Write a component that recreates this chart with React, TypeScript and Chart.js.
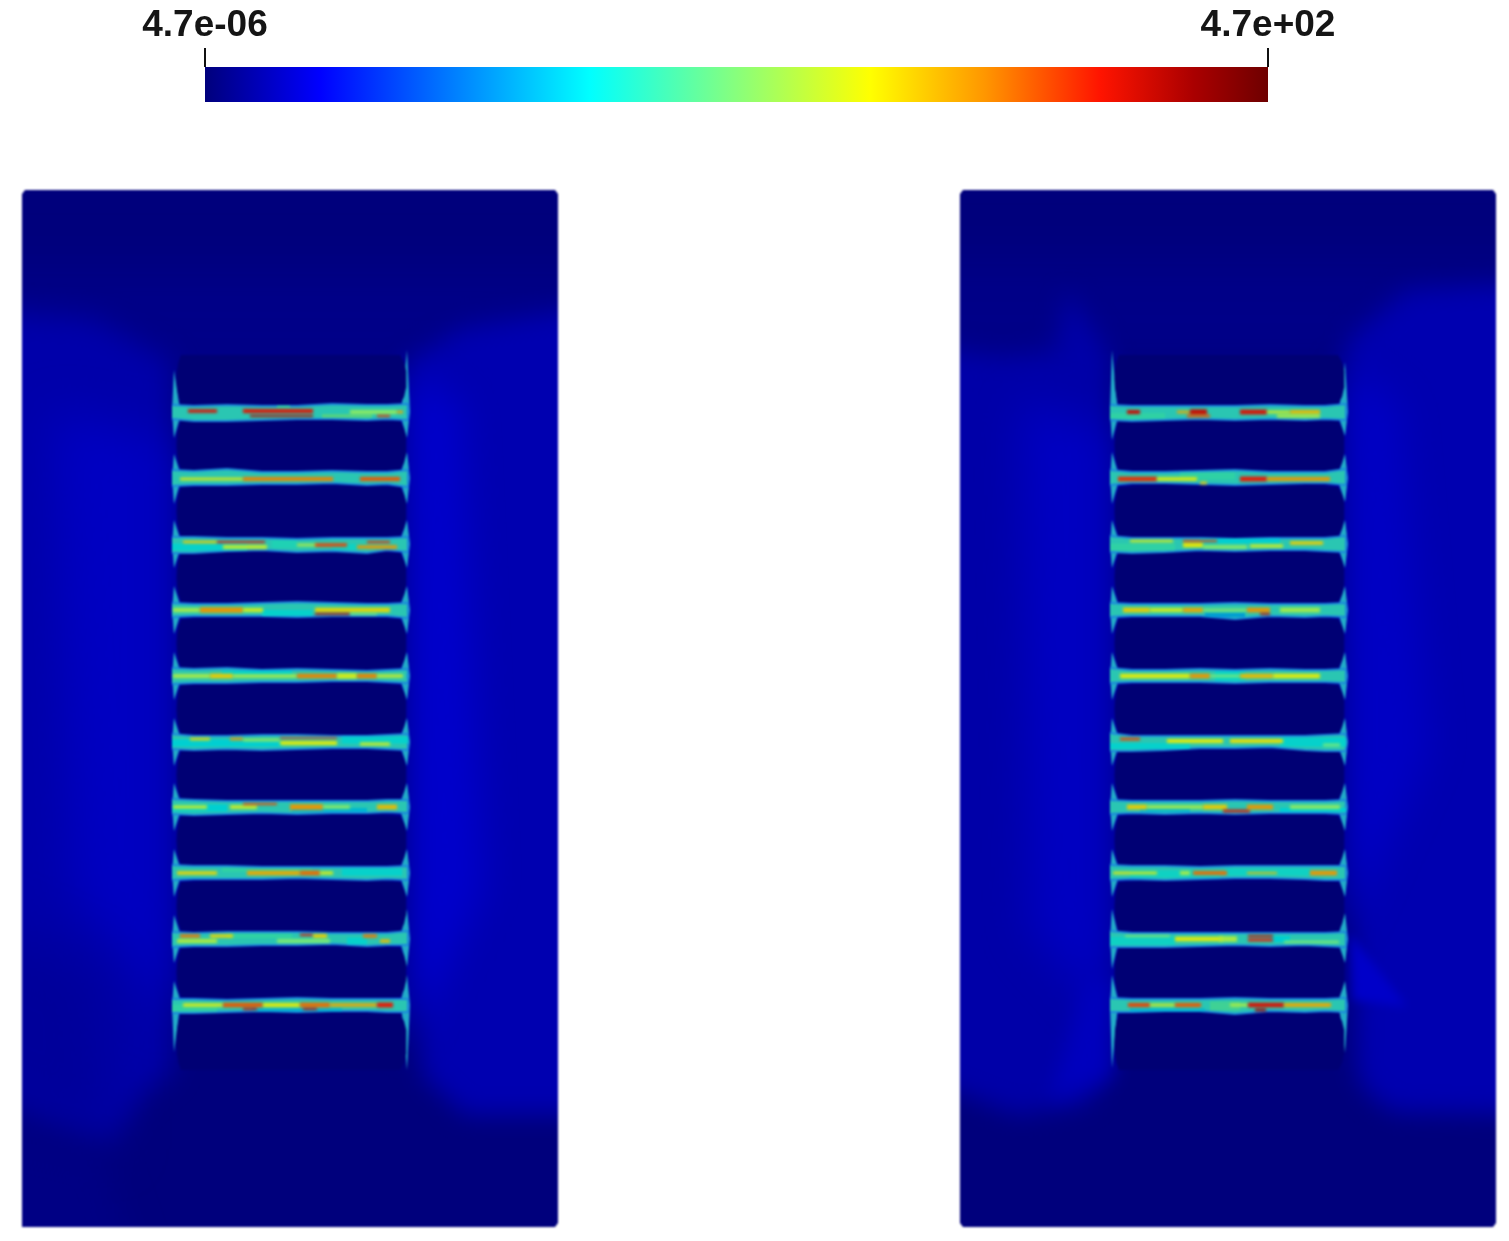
import React, { useEffect, useRef } from "react";
import { Chart, registerables } from "chart.js";

// ---------- scalar bar ----------
const rangeMin = 4.7e-6;
const rangeMax = 4.7e2;
const tickLabels = ["4.7e-06", "4.7e+02"];
const colorStops = [0, 0.108, 0.362, 0.494, 0.626, 0.734, 0.842, 0.93, 1];
const colorValues = ["#00007c", "#0000ff", "#00ffff", "#82ff82", "#ffff00", "#ff9600", "#ff1400", "#aa0000", "#6e0000"];

// ---------- field, mesh coordinates of one panel ----------
const bandCenters = [222, 288, 354, 420, 486, 552, 617, 683, 749, 815];
const bandStations = [150, 172, 205, 240, 275, 310, 345, 365, 386];

const leftBandTop = [
  [-7, -6, -7, -6, -6, -8, -7, -7, -8], [-8, -7, -9, -6, -6, -7, -6, -6, -8],
  [-7, -7, -6, -6, -5, -6, -6, -6, -7], [-7, -6, -6, -7, -8, -7, -6, -6, -7],
  [-8, -7, -8, -6, -7, -6, -5, -6, -7], [-8, -6, -6, -7, -7, -6, -6, -7, -8],
  [-8, -7, -6, -6, -6, -6, -6, -7, -7], [-8, -7, -7, -6, -6, -6, -6, -6, -7],
  [-7, -6, -7, -7, -7, -6, -6, -6, -8], [-6, -6, -5, -6, -7, -6, -6, -6, -6],
];
const leftBandBottom = [
  [7, 9, 9, 8, 7, 7, 8, 7, 8], [8, 7, 7, 6, 6, 5, 7, 6, 9],
  [9, 9, 7, 6, 8, 7, 9, 6, 8], [7, 6, 6, 6, 7, 6, 6, 6, 8],
  [8, 7, 7, 6, 6, 5, 5, 6, 7], [7, 8, 7, 8, 7, 6, 6, 7, 8],
  [7, 8, 7, 6, 7, 6, 6, 5, 6], [7, 6, 6, 6, 5, 6, 7, 6, 7],
  [8, 7, 7, 6, 6, 5, 7, 6, 6], [8, 8, 7, 6, 7, 6, 6, 7, 7],
];
const rightBandTop = [
  [-7, -6, -6, -6, -6, -7, -6, -6, -8], [-8, -6, -6, -7, -8, -6, -6, -6, -9],
  [-8, -6, -6, -6, -5, -6, -6, -6, -8], [-7, -6, -6, -6, -7, -6, -6, -6, -7],
  [-8, -6, -6, -7, -6, -7, -6, -6, -7], [-9, -6, -6, -6, -6, -6, -6, -7, -8],
  [-7, -6, -6, -6, -7, -6, -6, -6, -7], [-8, -7, -7, -6, -7, -7, -7, -7, -7],
  [-8, -6, -6, -6, -6, -6, -6, -6, -7], [-7, -6, -6, -6, -7, -6, -6, -6, -7],
];
const rightBandBottom = [
  [8, 9, 8, 7, 8, 7, 8, 7, 8], [7, 5, 5, 6, 7, 6, 5, 5, 7],
  [8, 9, 8, 6, 7, 6, 6, 7, 8], [7, 6, 6, 6, 9, 6, 7, 6, 7],
  [7, 6, 6, 6, 7, 6, 6, 6, 7], [9, 9, 8, 6, 6, 5, 8, 9, 9],
  [7, 6, 7, 6, 7, 6, 6, 6, 7], [7, 6, 7, 6, 5, 5, 6, 7, 7],
  [8, 8, 8, 7, 6, 7, 6, 7, 8], [7, 7, 6, 6, 9, 6, 7, 6, 7],
];

// [band, from, to, offset, level, thickness]
const leftPatches = [
  [0, 255, 268, -5, 0.42, 3], [0, 300, 350, 4, 0.46, 4], [2, 150, 225, 3, 0.37, 7], [2, 250, 275, 0, 0.4, 8],
  [2, 310, 345, 3, 0.38, 6], [3, 240, 290, 3, 0.37, 6], [4, 200, 270, -3, 0.36, 5], [5, 150, 260, 1, 0.36, 7],
  [5, 320, 386, -2, 0.37, 7], [6, 150, 205, 1, 0.36, 7], [6, 270, 345, 3, 0.33, 4], [7, 320, 380, -1, 0.37, 7],
  [7, 200, 290, -3, 0.42, 4], [8, 205, 270, -3, 0.42, 5], [8, 325, 345, 2, 0.37, 7], [9, 150, 195, 3, 0.42, 7],
  [9, 230, 320, 5, 0.32, 3],
];
const rightPatches = [
  [0, 150, 205, 4, 0.42, 6], [1, 220, 275, -2, 0.42, 7], [2, 150, 215, 3, 0.42, 7], [2, 240, 320, -3, 0.36, 5],
  [3, 245, 285, 5, 0.3, 4], [4, 255, 285, 0, 0.37, 10], [5, 150, 230, 4, 0.37, 6], [5, 320, 386, 0, 0.37, 9],
  [6, 180, 230, 3, 0.33, 4], [6, 320, 386, 3, 0.36, 4], [7, 170, 260, 1, 0.38, 7], [7, 265, 350, -1, 0.38, 7],
  [8, 150, 215, 2, 0.38, 8], [8, 310, 330, 0, 0.36, 6], [9, 250, 280, 1, 0.44, 9], [9, 170, 245, 5, 0.33, 3],
];
const leftStreaks = [
  [0, 166, 195, -1, 0.86, 2.5], [0, 221, 291, -1, 0.85, 3], [0, 228, 291, 4, 0.9, 1.5], [0, 328, 375, 0, 0.52, 3], [0, 375, 381, 0, 0.7, 2], [0, 355, 368, 4, 0.82, 1.5],
  [1, 158, 221, 1, 0.62, 2], [1, 221, 311, 1, 0.74, 3], [1, 338, 378, 1, 0.78, 3],
  [2, 161, 195, -2, 0.66, 2], [2, 195, 243, -2, 0.85, 1.5], [2, 201, 245, 3, 0.58, 3], [2, 275, 295, 1, 0.55, 2], [2, 293, 325, 1, 0.8, 2.5], [2, 345, 368, -2, 0.82, 1.5], [2, 335, 375, 3, 0.72, 2.5],
  [3, 151, 178, 0, 0.55, 3], [3, 178, 221, 0, 0.72, 4], [3, 221, 241, 0, 0.6, 3], [3, 293, 368, 0, 0.65, 3.5], [3, 293, 328, 4, 0.9, 1.5], [3, 328, 355, 4, 0.5, 1.5],
  [4, 151, 188, 0, 0.55, 3], [4, 188, 211, 0, 0.66, 3.5], [4, 211, 275, 0, 0.55, 2.5], [4, 275, 315, 0, 0.74, 3.5], [4, 315, 335, 0, 0.6, 4], [4, 335, 355, 0, 0.74, 3.5], [4, 355, 381, 0, 0.58, 2.5],
  [5, 168, 188, -3, 0.65, 2], [5, 208, 221, -3, 0.72, 2], [5, 221, 258, -2, 0.55, 2], [5, 258, 315, 1, 0.62, 3], [5, 258, 315, -4, 0.82, 1], [5, 338, 368, 2, 0.58, 2.5],
  [6, 151, 185, 0, 0.58, 2.5], [6, 208, 235, 0, 0.58, 3], [6, 221, 255, -3, 0.8, 1.5], [6, 268, 301, 0, 0.72, 4], [6, 301, 328, 0, 0.52, 2.5], [6, 355, 375, 0, 0.68, 3.5],
  [7, 155, 195, 0, 0.65, 2.5], [7, 225, 278, 0, 0.7, 3.5], [7, 278, 298, 0, 0.76, 3.5], [7, 298, 311, 0, 0.6, 2.5],
  [8, 158, 178, -3, 0.75, 2.5], [8, 188, 211, -3, 0.65, 2.5], [8, 278, 291, -4, 0.85, 1.5], [8, 291, 305, -3, 0.66, 3], [8, 341, 355, -3, 0.75, 2.5], [8, 358, 368, 2, 0.68, 2.5], [8, 155, 195, 2, 0.56, 3], [8, 255, 308, 2, 0.5, 3],
  [9, 161, 201, 0, 0.6, 2.5], [9, 201, 241, 0, 0.78, 3.5], [9, 221, 235, 4, 0.88, 1.5], [9, 241, 278, 0, 0.62, 3], [9, 278, 308, 0, 0.76, 3.5], [9, 281, 295, 4, 0.88, 1.5], [9, 308, 355, 0, 0.7, 2.5], [9, 355, 371, 0, 0.84, 3.5],
];
const rightStreaks = [
  [0, 167, 180, 0, 0.88, 3], [0, 217, 230, 0, 0.7, 2], [0, 230, 247, 0, 0.88, 4], [0, 227, 250, 4, 0.78, 2], [0, 280, 307, 0, 0.86, 3.5], [0, 307, 330, 0, 0.6, 2], [0, 330, 360, 0, 0.68, 3], [0, 317, 360, 4, 0.55, 2.5],
  [1, 158, 197, 1, 0.82, 3.5], [1, 197, 237, 1, 0.62, 2.5], [1, 240, 247, 5, 0.66, 2], [1, 280, 307, 1, 0.84, 3.5], [1, 307, 370, 1, 0.72, 3],
  [2, 170, 213, -3, 0.6, 2], [2, 223, 243, 1, 0.63, 3.5], [2, 223, 257, -3, 0.8, 1.5], [2, 243, 287, 3, 0.52, 2.5], [2, 290, 323, 2, 0.58, 2.5], [2, 330, 363, -1, 0.66, 2.5],
  [3, 163, 190, 0, 0.66, 3.5], [3, 190, 223, 0, 0.6, 3], [3, 223, 243, 0, 0.7, 3.5], [3, 243, 287, 0, 0.52, 2], [3, 287, 310, 0, 0.72, 3.5], [3, 300, 310, 4, 0.88, 1.5], [3, 320, 360, 0, 0.55, 3.5],
  [4, 160, 230, 0, 0.62, 3.5], [4, 230, 250, 0, 0.72, 3.5], [4, 250, 280, 0, 0.5, 2], [4, 280, 313, 0, 0.68, 3.5], [4, 313, 360, 0, 0.62, 3.5],
  [5, 160, 180, -3, 0.8, 2], [5, 207, 263, -1, 0.62, 3], [5, 270, 323, -1, 0.64, 3], [5, 363, 380, 3, 0.5, 2],
  [6, 167, 187, 0, 0.66, 3.5], [6, 187, 243, 0, 0.55, 2.5], [6, 243, 267, 0, 0.66, 3.5], [6, 263, 290, 4, 0.86, 2], [6, 287, 313, 0, 0.72, 3.5], [6, 330, 380, 0, 0.52, 3],
  [7, 153, 197, 0, 0.62, 2], [7, 220, 230, 0, 0.55, 3], [7, 233, 267, 0, 0.76, 3], [7, 287, 317, 0, 0.68, 1.5], [7, 350, 377, 0, 0.72, 3.5],
  [8, 215, 263, 0, 0.62, 3.5], [8, 259, 277, 0, 0.56, 4], [8, 288, 313, 1, 0.84, 2], [8, 288, 313, -3, 0.88, 1.5], [8, 324, 379, 3, 0.5, 2], [8, 165, 210, -3, 0.5, 1.5],
  [9, 168, 190, 0, 0.8, 3], [9, 190, 215, 0, 0.6, 2], [9, 215, 241, 0, 0.78, 3], [9, 270, 288, 0, 0.55, 2.5], [9, 288, 324, 0, 0.86, 3.5], [9, 295, 306, 5, 0.92, 2], [9, 324, 371, 0, 0.7, 3],
];

// reach of the thin spikes up and down from each band, on the inner left and right edges
const leftPanelLeftReach = [[42, 26], [24, 26], [24, 24], [24, 24], [24, 24], [24, 24], [24, 24], [24, 24], [24, 24], [24, 47]];
const leftPanelRightReach = [[62, 26], [26, 26], [24, 24], [24, 24], [24, 24], [24, 24], [24, 24], [24, 24], [30, 28], [30, 65]];
const rightPanelLeftReach = [[62, 28], [26, 26], [24, 24], [24, 24], [24, 24], [24, 24], [24, 24], [24, 24], [30, 30], [30, 63]];
const rightPanelRightReach = [[50, 24], [24, 24], [24, 24], [24, 24], [24, 24], [24, 24], [24, 24], [24, 24], [26, 24], [24, 48]];

const panelOutlineX = [3, 533, 536, 536, 533, 3, 0, 0];
const panelOutlineY = [0, 0, 4, 1033, 1037, 1037, 1033, 4];

// soft regions: [colour, softness, x list, y list]
const leftRegions = [
  ["#000088", 24, [-60, 596, 596, -60], [80, 80, 190, 190]],
  ["#0000aa", 14, [-60, 70, 150, 150, 120, 86, -60], [120, 128, 172, 880, 905, 950, 880]],
  ["#0000b0", 12, [386, 440, 596, 596, 443, 400], [172, 138, 112, 925, 925, 885]],
  ["#0000c2", 24, [30, 150, 150, 50], [220, 250, 830, 700]],
  ["#0000cb", 18, [386, 440, 462, 386], [180, 215, 700, 860]],
  ["#00009a", 26, [-60, 80, 90, -60], [720, 780, 960, 900]],
  ["#000084", 16, [-60, 80, 120, -60], [930, 965, 1080, 1080]],
];
const rightRegions = [
  ["#000088", 24, [-60, 596, 596, -60], [70, 70, 175, 175]],
  ["#0000a8", 12, [-60, 40, 95, 107, 150, 150, 125, 56, -60], [152, 165, 160, 100, 165, 885, 915, 925, 880]],
  ["#0000b0", 12, [386, 447, 596, 596, 433, 407, 397], [152, 100, 92, 925, 922, 903, 883]],
  ["#0000c2", 22, [60, 150, 150, 70], [210, 240, 830, 740]],
  ["#0000c4", 18, [386, 440, 470, 386], [175, 215, 560, 750]],
  ["#0000c9", 5, [390, 447, 393], [743, 817, 810]],
  ["#0000be", 10, [125, 150, 150, 90], [790, 790, 885, 910]],
];

const bandColor = "#2ac6b2";
const bandEdgeColor = "#1a86dc";
const spikeColor = "#22abc8";
const holeColor = "#000074";
const panelColor = "#00007c";
const textColor = "#151515";
const patchDim = 0.82;
const streakDim = 0.92;
const streakSoftness = 0.8;

// ---------- helpers ----------
const softPlugin = {
  id: "softPlugin",
  beforeDatasetDraw(chart: any, args: any) {
    const r = chart.data.datasets[args.index].softness;
    chart.ctx.save();
    if (r) chart.ctx.filter = `blur(${r}px)`;
  },
  afterDatasetDraw(chart: any) {
    chart.ctx.restore();
  },
};
Chart.register(softPlugin);
Chart.register(...registerables);

function hexToRgb(h: string) {
  return [parseInt(h.slice(1, 3), 16), parseInt(h.slice(3, 5), 16), parseInt(h.slice(5, 7), 16)];
}
function levelColor(t: number, dim = 1) {
  let i = 0;
  while (i < colorStops.length - 2 && t > colorStops[i + 1]) i++;
  const f = (t - colorStops[i]) / (colorStops[i + 1] - colorStops[i]);
  const a = hexToRgb(colorValues[i]);
  const b = hexToRgb(colorValues[i + 1]);
  return `rgb(${a.map((v, k) => Math.round((v + (b[k] - v) * f) * dim)).join(",")})`;
}
function polygon(xs: number[], ys: number[], color: string, softness = 0, edge = "transparent", edgeWidth = 0.01) {
  return {
    data: xs.map((x, i) => ({ x, y: ys[i] })),
    fill: "shape",
    backgroundColor: color,
    borderColor: edge,
    borderWidth: edgeWidth,
    pointRadius: 0,
    tension: 0,
    softness,
  };
}
function stroke(x0: number, x1: number, y: number, color: string, width: number, softness = 0) {
  return {
    data: [{ x: x0, y }, { x: x1, y }],
    borderColor: color,
    borderWidth: width,
    borderCapStyle: "butt",
    pointRadius: 0,
    fill: false,
    tension: 0,
    softness,
  };
}
function buildPanel(p: any) {
  const ds: any[] = [polygon(panelOutlineX, panelOutlineY, panelColor)];
  for (const [c, s, xs, ys] of p.regions) ds.push(polygon(xs as number[], ys as number[], c as string, s as number));
  bandCenters.forEach((c, i) => {
    const [lu, ld] = p.leftReach[i];
    ds.push(polygon([152, 157, 159, 157, 152, 150], [c - lu, c - 9, c, c + 9, c + ld, c], spikeColor));
    const [ru, rd] = p.rightReach[i];
    ds.push(polygon([385, 380, 377, 380, 385, 388], [c - ru, c - 9, c, c + 9, c + rd, c], spikeColor));
  });
  const holeTops = [165, ...bandCenters.map((c) => c + 9)];
  const holeBottoms = [...bandCenters.map((c) => c - 8), 880];
  holeTops.forEach((t, i) => {
    const b = holeBottoms[i];
    const m = (t + b) / 2;
    ds.push(
      polygon(
        [159, 156.5, 155, 154.5, 155, 156.5, 159, 378, 382, 384, 384.5, 384, 382, 378],
        [t, t + 7, t + 16, m, b - 16, b - 7, b, b, b - 7, b - 16, m, t + 16, t + 7, t],
        holeColor
      )
    );
  });
  bandCenters.forEach((c, i) => {
    const xs = [...bandStations, ...[...bandStations].reverse()];
    const ys = [
      ...p.bandTop[i].map((d: number) => c + d),
      ...[...p.bandBottom[i]].reverse().map((d: number) => c + d),
    ];
    ds.push(polygon(xs, ys, bandColor, 0, bandEdgeColor, 2));
  });
  for (const [b, x0, x1, dy, lv, w] of p.patches) ds.push(stroke(x0, x1, bandCenters[b] + dy, levelColor(lv, patchDim), w));
  for (const [b, x0, x1, dy, lv, w] of p.streaks)
    ds.push(stroke(x0, x1, bandCenters[b] + dy, levelColor(lv, streakDim), w * 1.35, streakSoftness));
  // Chart.js paints the first dataset last, so the painter's order is flipped here.
  return ds.reverse();
}

function FieldPanel({ left, panel }: { left: number; panel: any }) {
  const ref = useRef<HTMLCanvasElement | null>(null);
  useEffect(() => {
    const chart = new Chart(ref.current as HTMLCanvasElement, {
      type: "line",
      data: { datasets: buildPanel(panel) as any },
      options: {
        responsive: false,
        animation: false,
        events: [],
        layout: { padding: 0 },
        plugins: { legend: { display: false }, tooltip: { enabled: false } },
        scales: {
          x: { type: "linear", min: 0, max: 536, display: false },
          y: { type: "linear", min: 0, max: 1037, reverse: true, display: false },
        },
      } as any,
    });
    return () => chart.destroy();
  }, [panel]);
  return (
    <canvas
      ref={ref}
      width={536}
      height={1037}
      style={{ position: "absolute", left, top: 190, width: 536, height: 1037, filter: "blur(1px)" }}
    />
  );
}

function ScalarBar() {
  const ref = useRef<HTMLCanvasElement | null>(null);
  useEffect(() => {
    const chart = new Chart(ref.current as HTMLCanvasElement, {
      type: "bar",
      data: {
        labels: ["range"],
        datasets: [
          {
            data: [[rangeMin, rangeMax]],
            barPercentage: 1,
            categoryPercentage: 1,
            borderSkipped: false,
            backgroundColor: (c: any) => {
              const area = c.chart.chartArea;
              if (!area) return colorValues[0];
              const g = c.chart.ctx.createLinearGradient(area.left, 0, area.right, 0);
              colorStops.forEach((s, i) => g.addColorStop(s, colorValues[i]));
              return g;
            },
          },
        ],
      },
      options: {
        indexAxis: "y",
        responsive: false,
        animation: false,
        events: [],
        layout: { padding: { left: 205, right: 241, top: 0, bottom: 18 } },
        plugins: { legend: { display: false }, tooltip: { enabled: false } },
        scales: {
          y: { display: false },
          x: {
            type: "logarithmic",
            position: "top",
            min: rangeMin,
            max: rangeMax,
            afterBuildTicks: (s: any) => {
              s.ticks = [{ value: rangeMin }, { value: rangeMax }];
            },
            afterFit: (s: any) => {
              s.height = 67;
            },
            border: { display: false },
            grid: { drawOnChartArea: false, drawTicks: true, tickLength: 19, color: "#111111", lineWidth: 2 },
            ticks: {
              autoSkip: false,
              maxRotation: 0,
              padding: 0,
              color: textColor,
              font: { family: "'Liberation Sans'", size: 37, weight: "bold" },
              callback: (v: any) => (v === rangeMin ? tickLabels[0] : tickLabels[1]),
            },
          },
        },
      } as any,
    });
    return () => chart.destroy();
  }, []);
  return (
    <canvas
      ref={ref}
      width={1509}
      height={120}
      style={{ position: "absolute", left: 0, top: 0, width: 1509, height: 120, filter: "blur(0.6px)" }}
    />
  );
}

const leftPanel = {
  regions: leftRegions, leftReach: leftPanelLeftReach, rightReach: leftPanelRightReach,
  bandTop: leftBandTop, bandBottom: leftBandBottom, patches: leftPatches, streaks: leftStreaks,
};
const rightPanel = {
  regions: rightRegions, leftReach: rightPanelLeftReach, rightReach: rightPanelRightReach,
  bandTop: rightBandTop, bandBottom: rightBandBottom, patches: rightPatches, streaks: rightStreaks,
};

export default function App() {
  return (
    <div style={{ position: "absolute", left: 0, top: 0, width: 1509, height: 1241, background: "#fff", overflow: "hidden" }}>
      <ScalarBar />
      <FieldPanel left={22} panel={leftPanel} />
      <FieldPanel left={960} panel={rightPanel} />
    </div>
  );
}
